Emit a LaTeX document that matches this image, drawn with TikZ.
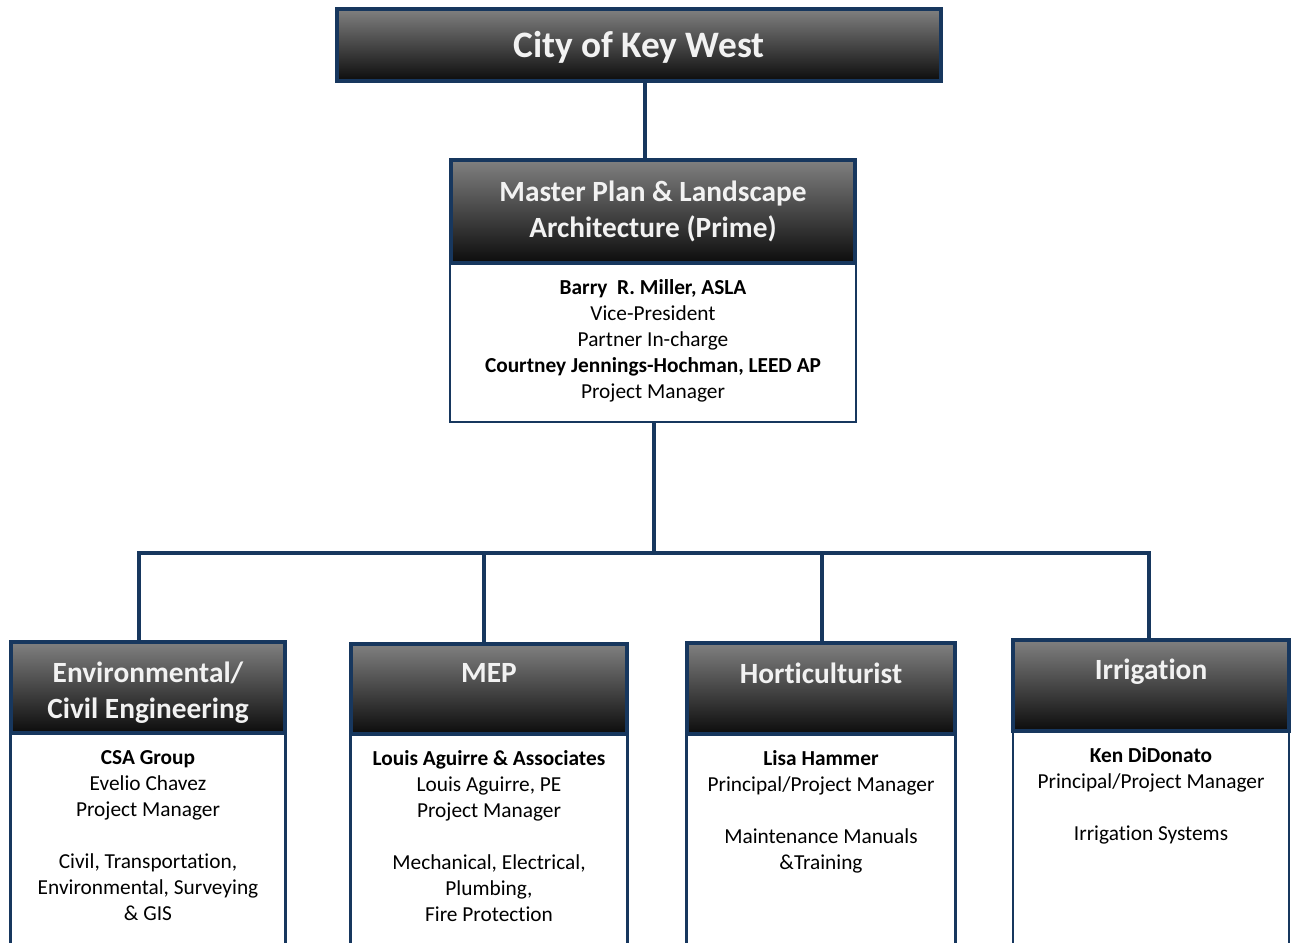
\documentclass[tikz,border=0pt]{standalone}
\usepackage{fontspec}
\setmainfont[Ligatures=NoCommon]{Carlito}
\definecolor{navy}{RGB}{23,55,94}
\definecolor{hdtop}{RGB}{128,128,128}
\definecolor{hdbot}{RGB}{12,12,12}
\definecolor{hdtext}{RGB}{242,242,242}
\begin{document}
\begin{tikzpicture}[x=0.75pt,y=-0.75pt,
  hdr/.style={draw=navy, line width=3pt, top color=hdtop, bottom color=hdbot, inner sep=0pt},
  bodybox/.style={draw=navy, line width=1.8pt, fill=white, inner sep=0pt},
  link/.style={draw=navy, line width=3pt, line join=miter},
  titletext/.style={text=hdtext, font=\fontsize{28}{32}\selectfont\bfseries, inner sep=0pt},
  hdtxt/.style={text=hdtext, font=\fontsize{22}{27}\selectfont\bfseries, align=center, inner sep=0pt},
  bodytxt/.style={text=black, font=\fontsize{16}{19.5}\selectfont, align=center, inner sep=0pt, anchor=north}]
\useasboundingbox (0,0) rectangle (1291,942);
\clip (0,0) rectangle (1291,942);
% coordinates for connectors
\coordinate (c1) at (645,0);
\coordinate (c2) at (654,0);
\coordinate (bus) at (654,553);
\coordinate (busL) at (139,553);
\coordinate (busR) at (1149,553);
\coordinate (busM) at (484,553);
\coordinate (busH) at (822,553);
% top
\node[hdr, minimum width=604*0.75pt, minimum height=72*0.75pt] (city) at (639,45) {};
\node[titletext] (citytxt) at (639,47) {City of Key West};
% master plan
\node[bodybox, minimum width=406*0.75pt, minimum height=159*0.75pt] (mpbody) at (653,342.5) {};
\node[hdr, minimum width=404*0.75pt, minimum height=103*0.75pt] (mphead) at (653,211.5) {};
\node[hdtxt] (mptxt) at (653,211) {Master Plan \& Landscape\\Architecture (Prime)};
\node[bodytxt] (mpbtxt) at (653,279) {\textbf{Barry\ \ R. Miller, ASLA}\\Vice-President\\Partner In-charge\\\textbf{Courtney Jennings-Hochman, LEED AP}\\Project Manager};
% bottom bodies
\node[bodybox, minimum width=275*0.75pt, minimum height=247*0.75pt] (envbody) at (148,856.5) {};
\node[bodybox, minimum width=277*0.75pt, minimum height=247*0.75pt] (mepbody) at (489,857.5) {};
\node[bodybox, minimum width=269*0.75pt, minimum height=247*0.75pt] (horbody) at (821,857.5) {};
\node[bodybox, minimum width=276*0.75pt, minimum height=247*0.75pt] (irrbody) at (1151,854.5) {};
% bottom headers
\node[hdr, minimum width=274*0.75pt, minimum height=91*0.75pt] (envhead) at (148,687.5) {};
\node[hdr, minimum width=276*0.75pt, minimum height=90*0.75pt] (mephead) at (489,689) {};
\node[hdr, minimum width=268*0.75pt, minimum height=91*0.75pt] (horhead) at (821,688.5) {};
\node[hdr, minimum width=276*0.75pt, minimum height=91*0.75pt] (irrhead) at (1151,685.5) {};
\node[hdtxt] (envtxt) at (148,693) {Environmental/\\Civil Engineering};
\node[hdtxt] (meptxt) at (489,673) {MEP};
\node[hdtxt] (hortxt) at (821,673) {Horticulturist};
\node[hdtxt] (irrtxt) at (1151,672) {Irrigation};
% body texts
\node[bodytxt] (envbtxt) at (148,750) {\textbf{CSA Group}\\Evelio Chavez\\Project Manager\\\mbox{}\\Civil, Transportation,\\Environmental, Surveying\\\& GIS};
\node[bodytxt] (mepbtxt) at (489,750) {\textbf{Louis Aguirre \& Associates}\\Louis Aguirre, PE\\Project Manager\\\mbox{}\\Mechanical, Electrical,\\Plumbing,\\Fire Protection};
\node[bodytxt] (horbtxt) at (821,750) {\textbf{Lisa Hammer}\\Principal/Project Manager\\\mbox{}\\Maintenance Manuals\\\&Training};
\node[bodytxt] (irrbtxt) at (1151,747) {\textbf{Ken DiDonato}\\Principal/Project Manager\\\mbox{}\\Irrigation Systems};
% connectors
\draw[link] (city.south -| c1) -- (mphead.north -| c1);
\draw[link] (mpbody.south -| c2) -- (bus);
\draw[link] (envhead.north -| busL) -- (busL) -- (busR) -- (irrhead.north -| busR);
\draw[link] (busM) -- (mephead.north -| busM);
\draw[link] (busH) -- (horhead.north -| busH);
\end{tikzpicture}
\end{document}
